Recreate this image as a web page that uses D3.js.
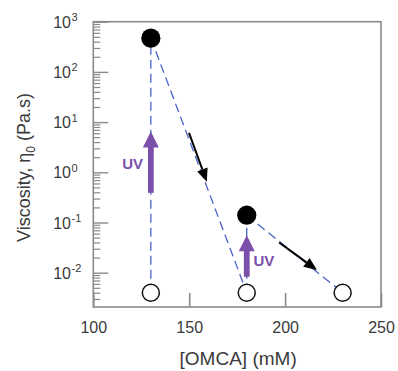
<!DOCTYPE html>
<html><head><meta charset="utf-8">
<script src="https://cdn.jsdelivr.net/npm/d3@7"></script>
<style>body{margin:0;background:#fff}svg{display:block}text{font-family:"Liberation Sans",Arial,sans-serif}</style>
</head><body>
<svg id="c" width="398" height="371"></svg>
<script>
// Data
const filledPoints = [{x:130, y:470}, {x:180, y:0.14}];
const openPoints = [{x:130, y:0.004}, {x:180, y:0.004}, {x:230, y:0.004}];
const dashedSegments = [
  [{x:130, y:0.004}, {x:130, y:470}],
  [{x:130, y:470}, {x:180, y:0.004}],
  [{x:180, y:0.004}, {x:180, y:0.14}],
  [{x:180, y:0.14}, {x:230, y:0.004}]
];
const blackArrows = [
  [{x:149.9, y:6.1}, {x:159.2, y:0.65}],
  [{x:196.9, y:0.04}, {x:216.6, y:0.0113}]
];
const uvArrows = [
  {x:130, y0:0.39, y1:6.5, label:"UV", lx:125.9, ly:1.14, anchor:"end"},
  {x:180, y0:0.0083, y1:0.056, label:"UV", lx:183.5, ly:0.0136, anchor:"start"}
];
const xTicks = [100, 150, 200, 250];
const yTickExps = [3, 2, 1, 0, -1, -2];

const svg = d3.select("#c");
const L = 93.3, R = 381, T = 21.7, B = 307;
const x = d3.scaleLinear().domain([100, 250]).range([L, R]);
const y = d3.scaleLog().domain([Math.pow(10, -2.683), 1000]).range([B, T]);

const gray = "#8a8a8a", blue = "#4b62c8", purple = "#7b50aa", txt = "#3a3a3a";

// frame
svg.append("rect").attr("x", L).attr("y", T).attr("width", R - L).attr("height", B - T)
  .attr("fill", "none").attr("stroke", gray).attr("stroke-width", 1.6);

// Y ticks (inward) major + minor
const yAxis = d3.axisLeft(y).tickValues(yTickExps.map(e => Math.pow(10, e))).tickSize(-15).tickFormat("");
const ga = svg.append("g").attr("transform", `translate(${L},0)`).call(yAxis);
ga.select(".domain").remove();
ga.selectAll("line").attr("stroke", gray).attr("stroke-width", 1.4);
const minor = [];
for (let e = -3; e < 3; e++) for (let m = 2; m <= 9; m++) { const v = m * Math.pow(10, e); if (v >= y.domain()[0] && v <= 1000) minor.push(v); }
const gm = svg.append("g").attr("transform", `translate(${L},0)`).call(d3.axisLeft(y).tickValues(minor).tickSize(-7).tickFormat(""));
gm.select(".domain").remove();
gm.selectAll("line").attr("stroke", gray).attr("stroke-width", 1.2);

// Y tick labels
yTickExps.forEach(e => {
  svg.append("text").attr("x", 71).attr("y", y(Math.pow(10, e)) + 6)
    .attr("text-anchor", "end").attr("fill", txt).attr("font-size", 16).text("10");
  svg.append("text").attr("x", 71.5).attr("y", y(Math.pow(10, e)) - 0.5)
    .attr("fill", txt).attr("font-size", 11).text(e);
});

// X ticks
const xAxis = d3.axisBottom(x).tickValues(xTicks).tickSize(-14).tickFormat(d => d).tickPadding(15);
const gx = svg.append("g").attr("transform", `translate(0,${B})`).call(xAxis);
gx.select(".domain").remove();
gx.selectAll("line").attr("stroke", gray).attr("stroke-width", 1.6);
gx.selectAll("text").attr("fill", txt).attr("font-size", 16).attr("font-family", "Liberation Sans, Arial, sans-serif");

// axis titles
svg.append("text").attr("x", (L + R) / 2 + 1).attr("y", 365).attr("text-anchor", "middle")
  .attr("font-size", 19).attr("fill", txt).text("[OMCA] (mM)");
const yt = svg.append("text").attr("transform", "translate(30,167.5) rotate(-90)").attr("text-anchor", "middle")
  .attr("font-size", 18).attr("fill", txt);
yt.append("tspan").text("Viscosity, η");
yt.append("tspan").attr("font-size", 12).attr("dy", 5).text("0");
yt.append("tspan").attr("dy", -5).text(" (Pa.s)");

// dashed lines
const line = d3.line().x(d => x(d.x)).y(d => y(d.y));
svg.append("g").selectAll("path").data(dashedSegments).join("path")
  .attr("d", line).attr("fill", "none").attr("stroke", blue).attr("stroke-width", 1.3)
  .attr("stroke-dasharray", "9,5");

// black arrows
const bg = svg.append("g");
blackArrows.forEach(a => {
  const x0 = x(a[0].x), y0 = y(a[0].y), x1 = x(a[1].x), y1 = y(a[1].y);
  const len = Math.hypot(x1 - x0, y1 - y0), ux = (x1 - x0) / len, uy = (y1 - y0) / len;
  const hl = 13, hw = 5.5;
  const bx = x1 - ux * hl, by = y1 - uy * hl;
  bg.append("line").attr("x1", x0).attr("y1", y0).attr("x2", bx).attr("y2", by)
    .attr("stroke", "#000").attr("stroke-width", 2);
  bg.append("path").attr("d", `M${x1},${y1} L${bx - uy * hw},${by + ux * hw} L${bx + uy * hw},${by - ux * hw} Z`).attr("fill", "#000");
});

// UV arrows
const ug = svg.append("g");
uvArrows.forEach(a => {
  const cx = x(a.x), yb = y(a.y0), yt2 = y(a.y1), hb = yt2 + 16;
  ug.append("rect").attr("x", cx - 2.9).attr("y", hb - 1).attr("width", 5.8).attr("height", yb - hb + 1).attr("fill", purple);
  ug.append("path").attr("d", `M${cx - 8},${hb} L${cx},${yt2} L${cx + 8},${hb} Z`).attr("fill", purple);
  ug.append("text").attr("x", x(a.lx)).attr("y", y(a.ly)).attr("text-anchor", a.anchor)
    .attr("font-size", 15).attr("font-weight", "bold").attr("fill", purple).text(a.label);
});

// points
svg.append("g").selectAll("circle").data(openPoints).join("circle")
  .attr("cx", d => x(d.x)).attr("cy", d => y(d.y)).attr("r", 8.5)
  .attr("fill", "#fff").attr("stroke", "#111").attr("stroke-width", 1.5);
svg.append("g").selectAll("circle").data(filledPoints).join("circle")
  .attr("cx", d => x(d.x)).attr("cy", d => y(d.y)).attr("r", 9.6).attr("fill", "#000");
</script>
</body></html>
